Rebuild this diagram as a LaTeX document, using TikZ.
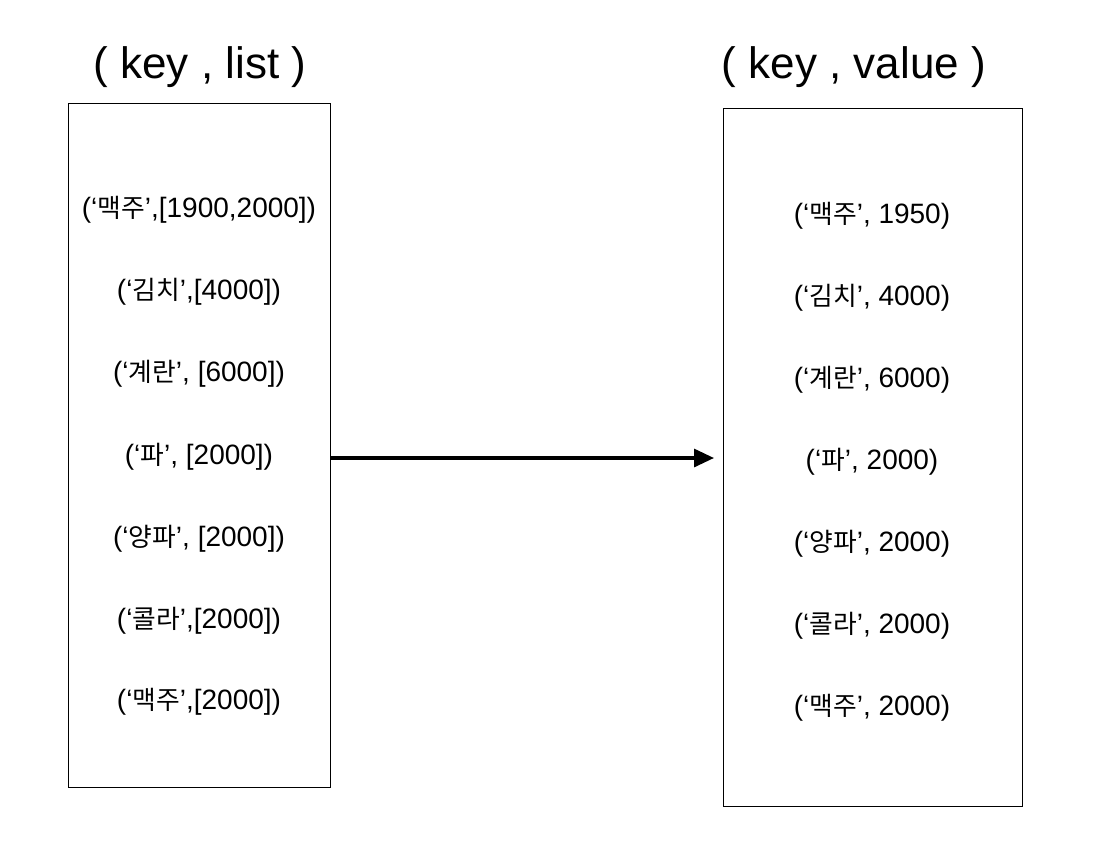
\documentclass[tikz,border=0pt]{standalone}
\usepackage{fontspec}
\setmainfont{Liberation Sans}
\newfontfamily\kofont[Scale=0.92]{Noto Sans CJK KR}
\newcommand{\ko}[1]{{\kofont #1}}
\usetikzlibrary{arrows.meta}
\begin{document}
\begin{tikzpicture}[x=1pt,y=-1pt,
  panel/.style={draw=black,line width=1pt,fill=white,inner sep=0pt},
  title/.style={font=\fontsize{44}{52}\selectfont,inner sep=0pt},
  entry/.style={font=\fontsize{28}{33}\selectfont,inner sep=0pt},
  flow/.style={line width=3.2pt,-{Triangle[length=20pt,width=18pt]}}]
\useasboundingbox (0,0) rectangle (1098,860);

% column titles
\node[title] (ltitle) at (200,67) {( key , list )};
\node[title] (rtitle) at (854,67) {( key , value )};

% the two panels
\node[panel,minimum width=262pt,minimum height=684pt] (lbox) at (199,445) {};
\node[panel,minimum width=299pt,minimum height=698pt] (rbox) at (872.5,457) {};

% grouped lists
\node[entry] (l1) at (199,210) {(‘\ko{맥주}’,[1900,2000])};
\node[entry] (l2) at (199,292) {(‘\ko{김치}’,[4000])};
\node[entry] (l3) at (199,374) {(‘\ko{계란}’, [6000])};
\node[entry] (l4) at (199,457) {(‘\ko{파}’, [2000])};
\node[entry] (l5) at (199,539) {(‘\ko{양파}’, [2000])};
\node[entry] (l6) at (199,621) {(‘\ko{콜라}’,[2000])};
\node[entry] (l7) at (199,702) {(‘\ko{맥주}’,[2000])};

% reduced values
\node[entry] (r1) at (872,216) {(‘\ko{맥주}’, 1950)};
\node[entry] (r2) at (872,298) {(‘\ko{김치}’, 4000)};
\node[entry] (r3) at (872,380) {(‘\ko{계란}’, 6000)};
\node[entry] (r4) at (872,462) {(‘\ko{파}’, 2000)};
\node[entry] (r5) at (872,544) {(‘\ko{양파}’, 2000)};
\node[entry] (r6) at (872,626) {(‘\ko{콜라}’, 2000)};
\node[entry] (r7) at (872,708) {(‘\ko{맥주}’, 2000)};

% transformation arrow
\coordinate (tip) at (714,458);
\draw[flow] (lbox.east |- tip) -- (tip);
\end{tikzpicture}
\end{document}
